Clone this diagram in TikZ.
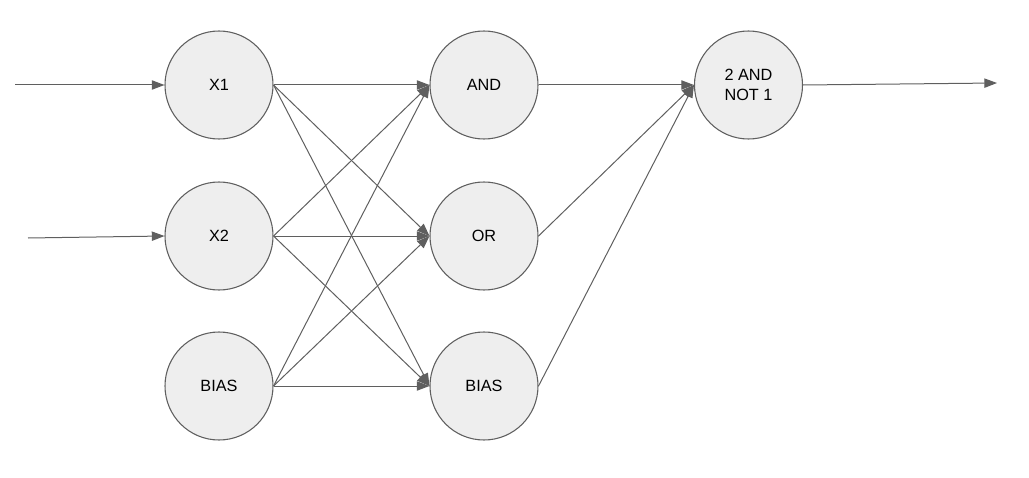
\documentclass[tikz,border=0pt]{standalone}
\usepackage{fontspec}
\setmainfont{Liberation Sans}
\usetikzlibrary{arrows.meta,positioning}
\definecolor{nodefill}{HTML}{EEEEEE}
\definecolor{linegray}{HTML}{5F5F5F}
\tikzset{>={Triangle[length=9.5pt,width=7pt]}}
\tikzset{neuron/.style={circle,draw=linegray,fill=nodefill,line width=0.8pt,minimum size=81pt,inner sep=0pt,align=center,font=\fontsize{12.2}{14.5}\selectfont}}
\tikzset{link/.style={->,draw=linegray,line width=0.75pt}}

\begin{document}
\begin{tikzpicture}[x=0.75pt,y=-0.75pt]
    \useasboundingbox (0,0) rectangle (1029,478);

    % input layer
    \node[neuron] (x1) at (219,85) {X1};
    \node[neuron] (x2) at (219,236) {X2};
    \node[neuron] (biasin) at (219,386) {BIAS};

    % hidden layer
    \node[neuron] (and) at (484,85) {AND};
    \node[neuron] (or) at (484,236) {OR};
    \node[neuron] (biashid) at (484,386) {BIAS};

    % output
    \node[neuron] (out) at (748.5,85) {2 AND\\NOT 1};

    \coordinate (in1) at (15,85);
    \coordinate (in2) at (28,238);
    \coordinate (outend) at (997,83);

    \draw[link] (in1) -- (x1.west);
    \draw[link] (in2) -- (x2.west);

    \foreach \s in {x1,x2,biasin}
        \foreach \t in {and,or,biashid}
            \draw[link] (\s.east) -- (\t.west);

    \foreach \s in {and,or,biashid}
        \draw[link] (\s.east) -- (out.west);

    \draw[link] (out.east) -- (outend);
\end{tikzpicture}
\end{document}
